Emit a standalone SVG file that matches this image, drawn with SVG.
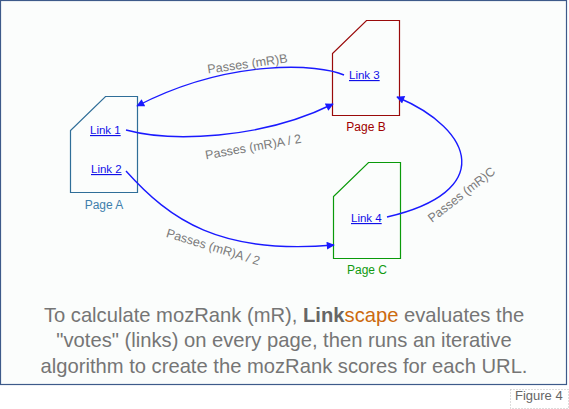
<svg xmlns="http://www.w3.org/2000/svg" width="569" height="409" viewBox="0 0 569 409">
<style>
text{font-family:"Liberation Sans",Arial,sans-serif}
.link{font-size:11.5px;fill:#1010e8;text-decoration:underline}
.lbl{font-size:12.5px;fill:#7a7a7a}
.edge{fill:none;stroke:#1a1aff;stroke-width:1.4}
.cap{font-size:20.2px;fill:#757575;text-anchor:middle}
.pg{font-size:12px;text-anchor:middle}
</style>
<defs>
<marker id="ah" viewBox="0 0 10 10" refX="9" refY="5" markerWidth="10" markerHeight="8" markerUnits="userSpaceOnUse" orient="auto">
<path d="M0,0 L10,5 L0,10 z" fill="#1a1aff"/>
</marker>
</defs>
<rect x="0" y="0" width="569" height="409" fill="#ffffff"/>
<rect x="0.5" y="0.5" width="566" height="384" fill="#fbfdfc" stroke="#3d5a8a" stroke-width="1.2"/>
<rect x="510.5" y="389.5" width="58" height="19" fill="none" stroke="#bbbbbb" stroke-width="1" stroke-dasharray="1,2"/>
<text x="515" y="400" style="font-size:13px;fill:#666">Figure 4</text>

<g id="pageA">
<path d="M105.5,96.5 H137.5 V192.5 H70.5 V130.5 Z" fill="none" stroke="#2f6e98" stroke-width="1.2"/>
<text class="pg" x="104" y="209" fill="#3f7fac">Page A</text>
<text class="link" x="90" y="134">Link 1</text>
<text class="link" x="91" y="173">Link 2</text>
</g>
<g id="pageB">
<path d="M366.5,20.5 H399.5 V115.5 H332.5 V53.5 Z" fill="none" stroke="#9a0a0a" stroke-width="1.2"/>
<text class="pg" x="366" y="131" fill="#a00000">Page B</text>
<text class="link" x="349" y="79">Link 3</text>
</g>
<g id="pageC">
<path d="M368.5,162.5 H400.5 V258.5 H333.5 V196.5 Z" fill="none" stroke="#0a9a0a" stroke-width="1.2"/>
<text class="pg" x="367" y="274" fill="#109a10">Page C</text>
<text class="link" x="351" y="222">Link 4</text>
</g>

<g id="connectors">
<path class="edge" d="M344,75 C320,64 230,58 137,106" marker-end="url(#ah)"/>
<path class="edge" d="M126,130 C170,142 260,140 333,104" marker-end="url(#ah)"/>
<path class="edge" d="M126,171 C170,220 220,255 334,245" marker-end="url(#ah)"/>
<path class="edge" d="M387,217 C495,192 475,130 397,97" marker-end="url(#ah)"/>
<text class="lbl" x="0" y="0" text-anchor="middle" transform="translate(248,68) rotate(-8)">Passes (mR)B</text>
<text class="lbl" x="0" y="0" text-anchor="middle" transform="translate(254,151) rotate(-10)">Passes (mR)A / 2</text>
<text class="lbl" x="0" y="0" text-anchor="middle" transform="translate(212,251) rotate(17)">Passes (mR)A / 2</text>
<text class="lbl" x="0" y="0" text-anchor="middle" transform="translate(464,198) rotate(-38)">Passes (mR)C</text>
</g>

<text class="cap" x="284" y="322">To calculate mozRank (mR), <tspan font-weight="bold" fill="#666">Link</tspan><tspan fill="#cc6a10">scape</tspan> evaluates the</text>
<text class="cap" x="284" y="347">"votes" (links) on every page, then runs an iterative</text>
<text class="cap" x="284" y="373">algorithm to create the mozRank scores for each URL.</text>
</svg>
